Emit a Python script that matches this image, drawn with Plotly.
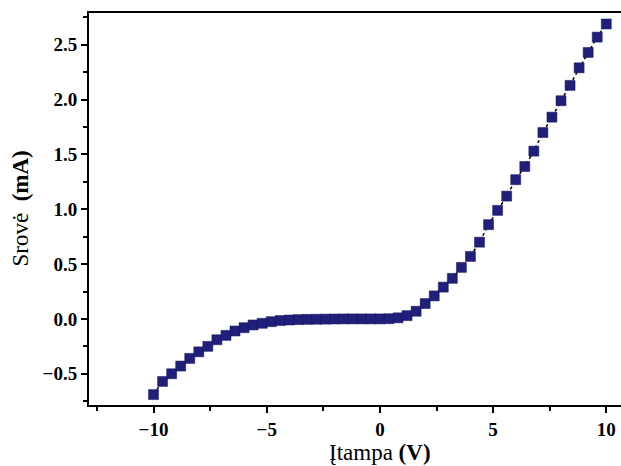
import plotly.graph_objects as go

# Voltage (V), step 0.4 from -10 to 10
voltage = [round(-10 + 0.4 * i, 1) for i in range(51)]
# Current (mA)
current = [
    -0.69, -0.57, -0.50, -0.43, -0.36, -0.30, -0.25, -0.19, -0.15, -0.11,
    -0.08, -0.055, -0.04, -0.025, -0.015, -0.01, -0.006, -0.004, -0.003, -0.002,
    -0.001, 0.0, 0.0, 0.0, 0.0, 0.0, 0.002, 0.01, 0.03, 0.07,
    0.14, 0.21, 0.29, 0.37, 0.47, 0.57, 0.70, 0.86, 0.99, 1.12,
    1.27, 1.39, 1.53, 1.70, 1.84, 1.99, 2.13, 2.29, 2.43, 2.57,
    2.69,
]

x_ticks = [-10, -5, 0, 5, 10]
y_ticks = [-0.5, 0.0, 0.5, 1.0, 1.5, 2.0, 2.5]

fig = go.Figure()
fig.add_trace(go.Scatter(
    x=voltage, y=current, mode="lines+markers",
    line=dict(color="black", width=1.5, dash="dot"),
    marker=dict(symbol="square", size=10, color="#20207a",
                line=dict(color="#15155a", width=0.5)),
    showlegend=False,
))

tickfont = dict(family="Liberation Serif", size=19, color="black", weight="bold")

fig.update_layout(
    width=621, height=466,
    margin=dict(l=89, r=0, t=13, b=61),
    paper_bgcolor="white", plot_bgcolor="white",
    xaxis=dict(
        range=[-12.85, 10.65], tickvals=x_ticks, ticks="outside", ticklen=6, tickwidth=2,
        tickcolor="black", showline=True, linecolor="black", linewidth=2, mirror=True,
        showgrid=False, zeroline=False, tickfont=tickfont,
        minor=dict(dtick=2.5, tick0=0, ticks="outside", ticklen=4, tickwidth=1.5, tickcolor="black", showgrid=False),
    ),
    yaxis=dict(
        range=[-0.785, 2.79], tickvals=y_ticks, tickformat=".1f", ticks="outside", ticklen=6, tickwidth=2,
        tickcolor="black", showline=True, linecolor="black", linewidth=2, mirror=False,
        showgrid=False, zeroline=False, tickfont=tickfont,
        minor=dict(dtick=0.25, tick0=0, ticks="outside", ticklen=4, tickwidth=1.5, tickcolor="black", showgrid=False),
    ),
)

fig.add_annotation(
    x=0, xref="x", y=0, yref="paper", yshift=-33, yanchor="top",
    text="Įtampa <b>(V)</b>", showarrow=False,
    font=dict(family="Liberation Serif", size=23, color="black"),
)
fig.add_annotation(
    x=0, xref="paper", xshift=-55, xanchor="right", y=0.5, yref="paper",
    text="Srovė  <b>(mA)</b>", showarrow=False, textangle=-90,
    font=dict(family="Liberation Serif", size=23, color="black"),
)

fig.write_html("out.html")
